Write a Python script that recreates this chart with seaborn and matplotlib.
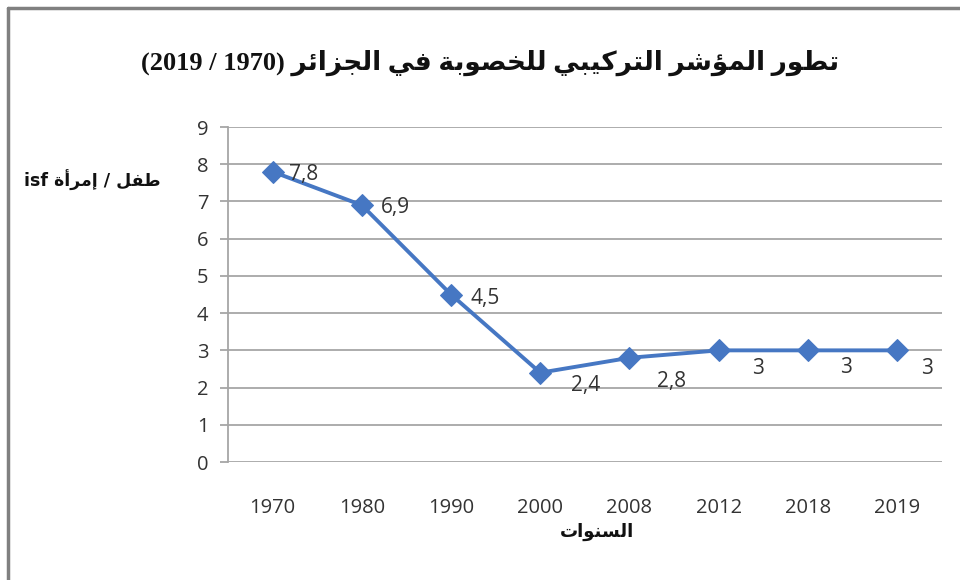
import matplotlib
matplotlib.use("Agg")
import matplotlib.pyplot as plt
import seaborn as sns
import pandas as pd
from matplotlib.lines import Line2D

# ---------------- data ----------------
years = ["1970", "1980", "1990", "2000", "2008", "2012", "2018", "2019"]
isf = [7.8, 6.9, 4.5, 2.4, 2.8, 3.0, 3.0, 3.0]
value_labels = ["7,8", "6,9", "4,5", "2,4", "2,8", "3", "3", "3"]
y_ticks = [0, 1, 2, 3, 4, 5, 6, 7, 8, 9]
title_ar = "تطور المؤشر التركيبي للخصوبة في الجزائر"
title_years = "(2019 / 1970)"
ylabel_ar = "طفل / إمرأة"
ylabel_latin = "isf"
xlabel_ar = "السنوات"

# ------------- minimal Arabic shaping (presentation forms) -------------
# letter: (isolated, final, initial, medial); None => non-joining to the left
FORMS = {
    "ا": (0xFE8D, 0xFE8E, None, None),
    "أ": (0xFE83, 0xFE84, None, None),
    "إ": (0xFE87, 0xFE88, None, None),
    "ؤ": (0xFE85, 0xFE86, None, None),
    "ئ": (0xFE89, 0xFE8A, 0xFE8B, 0xFE8C),
    "ب": (0xFE8F, 0xFE90, 0xFE91, 0xFE92),
    "ة": (0xFE93, 0xFE94, None, None),
    "ت": (0xFE95, 0xFE96, 0xFE97, 0xFE98),
    "ج": (0xFE9D, 0xFE9E, 0xFE9F, 0xFEA0),
    "خ": (0xFEA5, 0xFEA6, 0xFEA7, 0xFEA8),
    "ر": (0xFEAD, 0xFEAE, None, None),
    "ز": (0xFEAF, 0xFEB0, None, None),
    "س": (0xFEB1, 0xFEB2, 0xFEB3, 0xFEB4),
    "ش": (0xFEB5, 0xFEB6, 0xFEB7, 0xFEB8),
    "ص": (0xFEB9, 0xFEBA, 0xFEBB, 0xFEBC),
    "ط": (0xFEC1, 0xFEC2, 0xFEC3, 0xFEC4),
    "ف": (0xFED1, 0xFED2, 0xFED3, 0xFED4),
    "ك": (0xFED9, 0xFEDA, 0xFEDB, 0xFEDC),
    "ل": (0xFEDD, 0xFEDE, 0xFEDF, 0xFEE0),
    "م": (0xFEE1, 0xFEE2, 0xFEE3, 0xFEE4),
    "ن": (0xFEE5, 0xFEE6, 0xFEE7, 0xFEE8),
    "و": (0xFEED, 0xFEEE, None, None),
    "ي": (0xFEF1, 0xFEF2, 0xFEF3, 0xFEF4),
}
LAM_ALEF = {"ا": (0xFEFB, 0xFEFC), "أ": (0xFEF7, 0xFEF8), "إ": (0xFEF9, 0xFEFA)}


def shape(text):
    chars = list(text)
    out = []
    i = 0
    n = len(chars)

    def joins_left(c):  # can connect to following letter
        return c in FORMS and FORMS[c][2] is not None

    while i < n:
        c = chars[i]
        if c not in FORMS:
            out.append(c)
            i += 1
            continue
        prev = chars[i - 1] if i > 0 else None
        prev_joins = prev is not None and joins_left(prev)
        if c == "ل" and i + 1 < n and chars[i + 1] in LAM_ALEF:
            iso, fin = LAM_ALEF[chars[i + 1]]
            out.append(chr(fin if prev_joins else iso))
            i += 2
            continue
        nxt = chars[i + 1] if i + 1 < n else None
        next_joins = nxt is not None and nxt in FORMS and joins_left(c)
        iso, fin, ini, med = FORMS[c]
        if prev_joins and next_joins:
            code = med
        elif prev_joins:
            code = fin
        elif next_joins:
            code = ini
        else:
            code = iso
        out.append(chr(code))
        i += 1
    return "".join(out)


def rtl(text):
    s = shape(text)[::-1]
    return s.replace("(", "\0").replace(")", "(").replace("\0", ")")


# ---------------- plot ----------------
sns.set_theme(style="white")
plt.rcParams["font.family"] = ["DejaVu Sans"]

df = pd.DataFrame({"year": years, "isf": isf})

fig = plt.figure(figsize=(9.6, 5.8), dpi=100)
ax = fig.add_axes([0.2375, 0.2034, 0.981 - 0.2375, 0.781 - 0.2034])

blue = "#4677C3"
sns.lineplot(data=df, x="year", y="isf", ax=ax, color=blue, linewidth=2.8,
             marker="D", markersize=11, markeredgecolor=blue, sort=False)

ax.set_ylim(0, 9)
ax.set_xlim(-0.5, len(years) - 0.5)
ax.set_yticks(y_ticks)
ax.yaxis.grid(True, color="#A6A6A6", linewidth=1.3)
ax.xaxis.grid(False)
for s in ["top", "right", "bottom"]:
    ax.spines[s].set_visible(False)
ax.spines["left"].set_color("#A6A6A6")
ax.spines["left"].set_linewidth(1.3)
ax.tick_params(axis="y", which="major", left=True, length=6, width=1.3,
               color="#A6A6A6", labelsize=14.5, labelcolor="#333333", pad=8)
ax.tick_params(axis="x", bottom=False, labelsize=14.5, labelcolor="#333333", pad=20)
for lab in ax.get_xticklabels() + ax.get_yticklabels():
    lab.set_fontfamily("Open Sans")
ax.set_xlabel("")
ax.set_ylabel("")

# data labels (offsets in points)
offsets = [(12, -2), (14, -2), (14, -3), (22, -9), (20, -17), (24, -13), (23, -12), (17, -13)]
for i, (v, lab) in enumerate(zip(isf, value_labels)):
    ax.annotate(lab, (i, v), xytext=offsets[i], textcoords="offset points",
                ha="left", va="center", fontsize=15, color="#333333",
                fontfamily="Open Sans")

# texts
fig.text(0.51, 0.892, title_years + " " + rtl(title_ar), ha="center", va="center",
         fontsize=19, fontweight="bold", color="#111111",
         fontfamily=["Liberation Serif", "DejaVu Sans"])
fig.text(0.025, 0.688, ylabel_latin + " " + rtl(ylabel_ar), ha="left", va="center",
         fontsize=12.5, fontweight="bold", color="#111111", fontfamily="DejaVu Sans")
fig.text(0.622, 0.083, rtl(xlabel_ar), ha="center", va="center",
         fontsize=13, fontweight="bold", color="#111111", fontfamily="DejaVu Sans")

# outer frame (left and top edges visible)
fig.add_artist(Line2D([0.008, 0.008], [0.0, 0.987], transform=fig.transFigure,
                      color="#808080", linewidth=2.5))
fig.add_artist(Line2D([0.008, 1.0], [0.987, 0.987], transform=fig.transFigure,
                      color="#808080", linewidth=2.5))

fig.savefig("out.png", dpi=100, facecolor="white")
